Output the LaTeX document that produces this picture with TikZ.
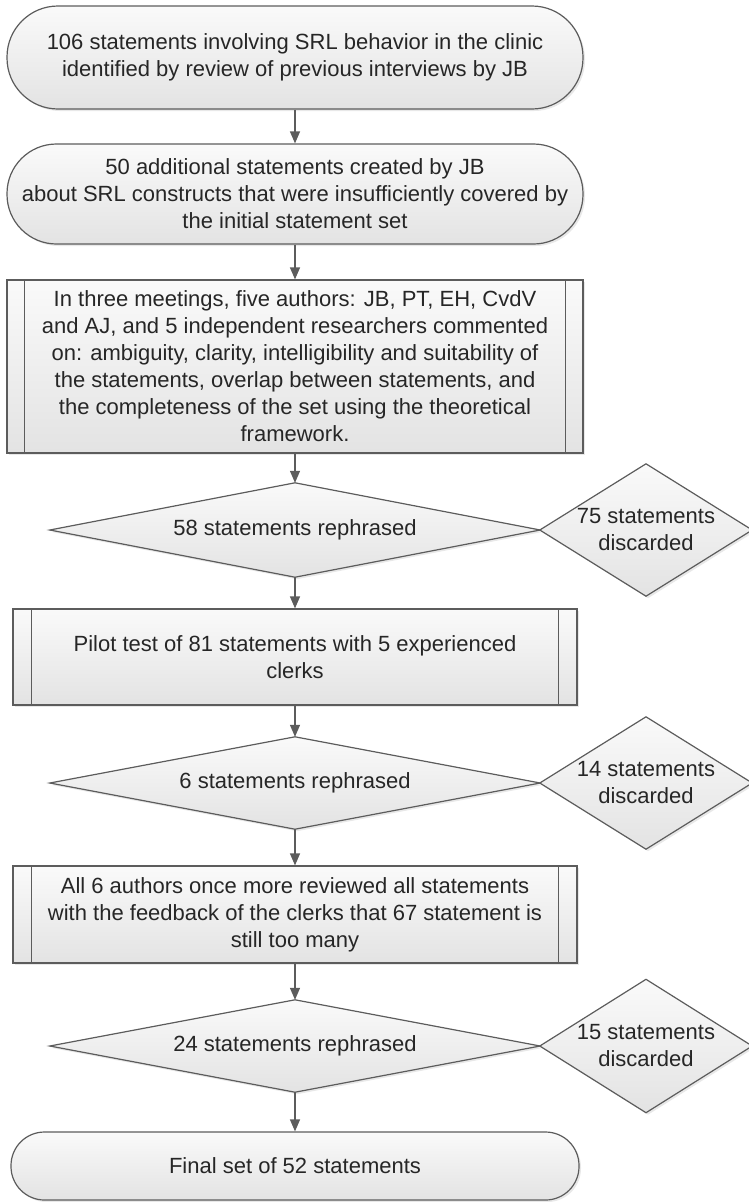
\documentclass[tikz,border=0pt]{standalone}
\usepackage{fontspec}
\setmainfont{Liberation Sans}
\usetikzlibrary{arrows.meta,shadows}
\definecolor{edgec}{HTML}{5C5C5C}
\definecolor{txtc}{HTML}{262626}
\newcommand\drawdia[1]{\path[diashape] (#1.west) -- (#1.north) -- (#1.east) -- (#1.south) -- cycle;}
\newcommand\procbars[2]{%
  \draw[edgeline] ([xshift=#2]#1.north west) -- ([xshift=#2]#1.south west);
  \draw[edgeline] ([xshift=-#2]#1.north east) -- ([xshift=-#2]#1.south east);}
\begin{document}
\begin{tikzpicture}[x=1pt,y=-1pt,
  font=\fontsize{22}{27}\selectfont,
  shade/.style={top color=black!2, bottom color=black!11},
  shad/.style={drop shadow={shadow xshift=2pt, shadow yshift=-2pt, opacity=0.18}},
  box/.style={draw=edgec, line width=1.2pt, shade, shad, text=txtc, align=center, inner sep=0pt},
  term/.style={box, rounded corners=#1},
  proc/.style={box},
  edgeline/.style={draw=edgec, line width=1.2pt},
  diashape/.style={draw=edgec, line width=1.2pt, shade, shad},
  diabox/.style={draw=none, inner sep=0pt},
  diatext/.style={text=txtc, align=center, inner sep=0pt},
  arr/.style={draw=edgec, line width=1.3pt, -{Triangle[length=12pt,width=10pt]}}
]
\useasboundingbox (0,0) rectangle (749,1202);

% top terminators
\node[term=51pt, minimum width=576pt, minimum height=103pt] (b1) at (295,57.5)
  {106 statements involving SRL behavior in the clinic\\identified by review of previous interviews by JB};
\node[term=49.5pt, minimum width=576pt, minimum height=100pt] (b2) at (295,194)
  {50 additional statements created by JB\\about SRL constructs that were insufficiently covered by\\the initial statement set};

% process 1
\node[proc, minimum width=576pt, minimum height=173pt] (b3) at (295,366.5)
  {In three meetings, five authors: JB, PT, EH, CvdV\\and AJ, and 5 independent researchers commented\\on: ambiguity, clarity, intelligibility and suitability of\\the statements, overlap between statements, and\\the completeness of the set using the theoretical\\framework.};
\procbars{b3}{18pt}

% decision 1
\node[diabox, minimum width=490pt, minimum height=94pt] (d1) at (295,530) {};
\node[diabox, minimum width=212pt, minimum height=132pt] (s1) at (646,530) {};
\drawdia{d1}\drawdia{s1}
\node[diatext] (d1t) at (d1) {58 statements rephrased};
\node[diatext] (s1t) at (s1) {75 statements\\discarded};

% process 2
\node[proc, minimum width=564pt, minimum height=96pt] (b4) at (295,657)
  {Pilot test of 81 statements with 5 experienced\\clerks};
\procbars{b4}{19pt}

% decision 2
\node[diabox, minimum width=490pt, minimum height=92pt] (d2) at (295,783) {};
\node[diabox, minimum width=212pt, minimum height=132pt] (s2) at (646,783) {};
\drawdia{d2}\drawdia{s2}
\node[diatext] (d2t) at (d2) {6 statements rephrased};
\node[diatext] (s2t) at (s2) {14 statements\\discarded};

% process 3
\node[proc, minimum width=564pt, minimum height=97pt] (b5) at (295,914.5)
  {All 6 authors once more reviewed all statements\\with the feedback of the clerks that 67 statement is\\still too many};
\procbars{b5}{19pt}

% decision 3
\node[diabox, minimum width=490pt, minimum height=92pt] (d3) at (295,1046) {};
\node[diabox, minimum width=212pt, minimum height=133pt] (s3) at (646,1046) {};
\drawdia{d3}\drawdia{s3}
\node[diatext] (d3t) at (d3) {24 statements rephrased};
\node[diatext] (s3t) at (s3) {15 statements\\discarded};

% final terminator
\node[term=33.5pt, minimum width=568pt, minimum height=68pt] (b6) at (295,1166)
  {Final set of 52 statements};

% connectors
\draw[arr] (b1.south) -- (b2.north);
\draw[arr] (b2.south) -- (b3.north);
\draw[arr] (b3.south) -- (d1.north);
\draw[arr] (d1.south) -- (b4.north);
\draw[arr] (b4.south) -- (d2.north);
\draw[arr] (d2.south) -- (b5.north);
\draw[arr] (b5.south) -- (d3.north);
\draw[arr] (d3.south) -- (b6.north);
\end{tikzpicture}
\end{document}
